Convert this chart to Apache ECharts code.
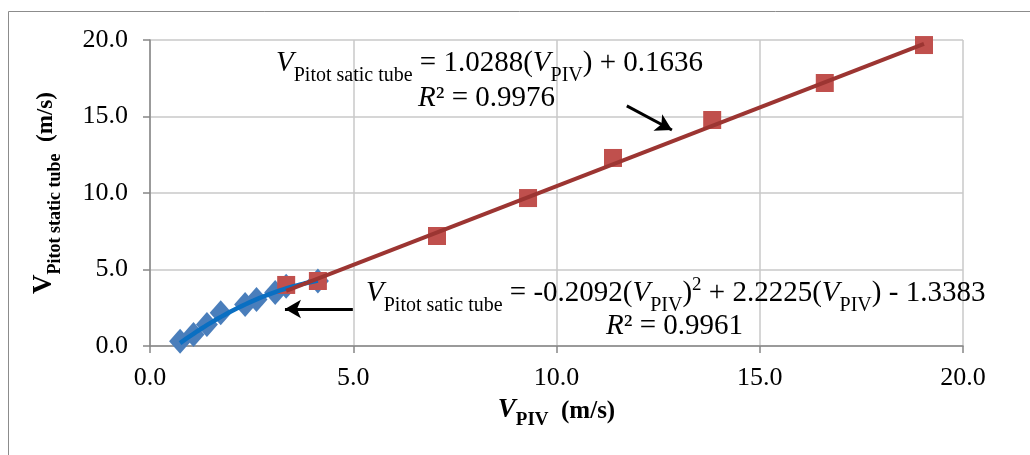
<!DOCTYPE html>
<html>
<head>
<meta charset="utf-8">
<script src="https://cdn.jsdelivr.net/npm/echarts@6/dist/echarts.min.js"></script>
<style>
  html, body { margin: 0; padding: 0; background: #fff; }
  #chart { width: 1030px; height: 455px; }
</style>
</head>
<body>
<div id="chart"></div>
<script>
// Measured velocities: PIV (x) vs Pitot static tube (y), m/s
const lowPiv   = [0.74, 1.07, 1.40, 1.74, 2.34, 2.62, 3.08, 3.35, 4.13];
const lowPitot = [0.31, 0.75, 1.40, 2.17, 2.71, 3.04, 3.50, 3.90, 4.25];

const highPiv   = [3.35, 4.13, 7.06, 9.30, 11.39, 13.83, 16.60, 19.04];
const highPitot = [3.99, 4.25, 7.19, 9.67, 12.29, 14.77, 17.19, 19.67];

// Fitted trendline coefficients (highest power first)
const linearFit = [1.0288, 0.1636];
const polyFit   = [-0.2092, 2.2225, -1.3383];

// Axis ticks
const axisTicks = [0.0, 5.0, 10.0, 15.0, 20.0];

// Annotation arrows in data units: [from, to]
const arrowLow  = [[4.99, 2.42], [3.32, 2.42]];
const arrowHigh = [[11.73, 15.69], [12.84, 14.12]];

const SERIF = '"Liberation Serif", "DejaVu Serif", serif';

function evalPoly(c, x) {
  return c.reduce((acc, k) => acc * x + k, 0);
}
function fitCurve(c, xs, steps) {
  const lo = Math.min(...xs), hi = Math.max(...xs);
  const pts = [];
  for (let i = 0; i <= steps; i++) {
    const x = lo + (hi - lo) * i / steps;
    pts.push([x, evalPoly(c, x)]);
  }
  return pts;
}
const zip = (a, b) => a.map((v, i) => [v, b[i]]);

const chart = echarts.init(document.getElementById('chart'));

const axisCommon = {
  type: 'value',
  min: axisTicks[0],
  max: axisTicks[axisTicks.length - 1],
  interval: axisTicks[1] - axisTicks[0],
  axisLine: { show: true, lineStyle: { color: '#878787', width: 1.5 } },
  axisTick: { show: true, length: 7, lineStyle: { color: '#878787', width: 1.5 } },
  splitLine: { show: true, lineStyle: { color: '#c8c8c8', width: 1.5 } },
  axisLabel: {
    color: '#000', fontFamily: SERIF, fontSize: 26,
    formatter: v => v.toFixed(1)
  },
  nameTextStyle: { fontFamily: SERIF, color: '#000' }
};

const eqMain = { fontFamily: SERIF, fontSize: 29, color: '#000', lineHeight: 36, verticalAlign: 'bottom' };
const eqItal = Object.assign({}, eqMain, { fontStyle: 'italic' });
const eqSub  = { fontFamily: SERIF, fontSize: 20, color: '#000', lineHeight: 28, verticalAlign: 'bottom', padding: [0, 0, -8, 0] };
const eqSup  = { fontFamily: SERIF, fontSize: 19, color: '#000', lineHeight: 36, verticalAlign: 'top', padding: [4, 0, 0, 0] };
const eqRich = { m: eqMain, i: eqItal, s: eqSub, p: eqSup };

function eqText(x, y, text) {
  return {
    type: 'text', left: x, top: y, z: 100,
    style: { text, rich: eqRich, fill: '#000', font: '29px ' + SERIF }
  };
}

chart.setOption({
  animation: false,
  backgroundColor: '#fff',
  grid: { left: 150, right: 67, top: 40, bottom: 109 },
  xAxis: Object.assign({}, axisCommon, {
    axisLabel: Object.assign({}, axisCommon.axisLabel, { margin: 19 }),
    name: '{v|V}{s|PIV}{u|  (m/s)}',
    nameLocation: 'middle',
    nameGap: 48,
    nameTextStyle: {
      rich: {
        v: { fontFamily: SERIF, fontSize: 27, fontWeight: 'bold', fontStyle: 'italic', color: '#000', lineHeight: 30, verticalAlign: 'bottom' },
        s: { fontFamily: SERIF, fontSize: 19, fontWeight: 'bold', color: '#000', lineHeight: 22, verticalAlign: 'bottom', padding: [0, 0, -6, 0] },
        u: { fontFamily: SERIF, fontSize: 25, fontWeight: 'bold', color: '#000', lineHeight: 30, verticalAlign: 'bottom' }
      }
    }
  }),
  yAxis: Object.assign({}, axisCommon, {
    axisLabel: Object.assign({}, axisCommon.axisLabel, { margin: 22 }),
    name: '{v|V}{s|Pitot static tube}{u|  (m/s)}',
    nameLocation: 'middle',
    nameGap: 92,
    nameRotate: 90,
    nameTextStyle: {
      rich: {
        v: { fontFamily: SERIF, fontSize: 27, fontWeight: 'bold', color: '#000', lineHeight: 30, verticalAlign: 'bottom' },
        s: { fontFamily: SERIF, fontSize: 18, fontWeight: 'bold', color: '#000', lineHeight: 22, verticalAlign: 'bottom', padding: [0, 0, -6, 0] },
        u: { fontFamily: SERIF, fontSize: 23, fontWeight: 'bold', color: '#000', lineHeight: 30, verticalAlign: 'bottom' }
      }
    }
  }),
  graphic: [
    {
      type: 'rect', z: -10, silent: true,
      shape: { x: 8.5, y: 11.5, width: 1040, height: 470 },
      style: { fill: 'none', stroke: '#8c8c8c', lineWidth: 1 }
    },
    eqText(276, 49, '{i|V}{s|Pitot satic tube}{m| = 1.0288(}{i|V}{s|PIV}{m|) + 0.1636}'),
    eqText(418, 84, '{i|R}{m|² = 0.9976}'),
    eqText(366, 272, '{i|V}{s|Pitot satic tube}{m| = -0.2092(}{i|V}{s|PIV}{m|)}{p|2}{m| + 2.2225(}{i|V}{s|PIV}{m|) - 1.3383}'),
    eqText(606, 312, '{i|R}{m|² = 0.9961}')
  ],
  series: [
    {
      name: 'low', type: 'scatter', z: 2,
      data: zip(lowPiv, lowPitot),
      symbol: 'diamond', symbolSize: [22, 25],
      itemStyle: { color: '#4a7ebb', opacity: 1 }
    },
    {
      name: 'high', type: 'scatter', z: 3,
      data: zip(highPiv, highPitot),
      symbol: 'rect', symbolSize: 18,
      itemStyle: { color: '#c0504d', opacity: 1 }
    },
    {
      name: 'poly fit', type: 'line', z: 4,
      data: fitCurve(polyFit, lowPiv, 40),
      showSymbol: false, smooth: false,
      lineStyle: { color: '#0a6fc2', width: 4.5 },
      markLine: {
        silent: true, symbol: ['none', 'arrow'], symbolSize: [14, 16],
        label: { show: false },
        lineStyle: { color: '#000', width: 3, type: 'solid' },
        data: [[{ coord: arrowLow[0] }, { coord: arrowLow[1] }]]
      }
    },
    {
      name: 'linear fit', type: 'line', z: 5,
      data: fitCurve(linearFit, highPiv, 1),
      showSymbol: false,
      lineStyle: { color: '#9c3532', width: 4 },
      markLine: {
        silent: true, symbol: ['none', 'arrow'], symbolSize: [14, 16],
        label: { show: false },
        lineStyle: { color: '#000', width: 3, type: 'solid' },
        data: [[{ coord: arrowHigh[0] }, { coord: arrowHigh[1] }]]
      }
    }
  ]
});
</script>
</body>
</html>
